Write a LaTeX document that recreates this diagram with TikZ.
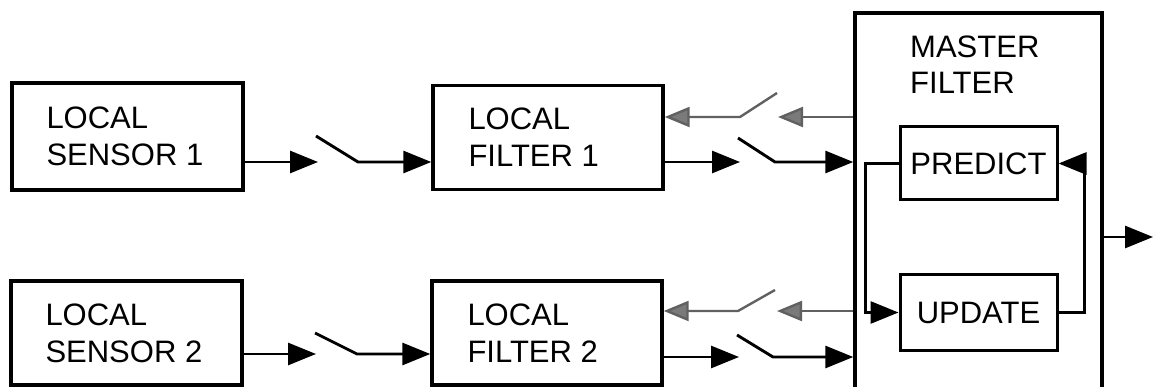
\documentclass[tikz,border=0pt]{standalone}
\usepackage{fontspec}
\setmainfont{Liberation Sans}
\usetikzlibrary{arrows.meta,calc}

\tikzset{
  box/.style={draw, line width=3.4pt, rectangle, minimum width=231pt,
    inner sep=0pt},
  txt/.style={align=left, inner sep=0pt, anchor=west,
    font=\fontsize{31}{37}\selectfont},
  subbox/.style={draw, line width=3pt, rectangle, align=center,
    minimum width=157pt, inner sep=0pt,
    font=\fontsize{31}{37}\selectfont},
  title/.style={align=left, inner sep=0pt, anchor=north west,
    font=\fontsize{31}{36}\selectfont},
  arr/.style={line width=2.9pt, -{Triangle[length=28pt,width=22pt]}},
  garr/.style={line width=2.4pt, draw=black!62,
    -{Triangle[length=25pt,width=20pt,fill=black!52]}},
}

\begin{document}
\begin{tikzpicture}[x=1pt,y=-1pt]
\useasboundingbox (0,0) rectangle (1154,387);
\clip (0,0) rectangle (1154,387);

% local sensors and local filters
\node[box, minimum height=107pt] (s1) at (127.5,136.5) {};
\node[box, minimum height=104pt, minimum width=230pt] (f1) at (548,137.5) {};
\node[box, minimum height=104pt] (s2) at (126.5,333) {};
\node[box, minimum height=104pt, minimum width=230pt] (f2) at (547,333) {};
\node[txt] (s1t) at ([xshift=36pt]s1.west) {LOCAL\\SENSOR 1};
\node[txt] (f1t) at ([xshift=37pt]f1.west) {LOCAL\\FILTER 1};
\node[txt] (s2t) at ([xshift=36pt]s2.west) {LOCAL\\SENSOR 2};
\node[txt] (f2t) at ([xshift=37pt]f2.west) {LOCAL\\FILTER 2};

% master filter (runs past the lower edge)
\node[draw, line width=3.4pt, rectangle, minimum width=247pt,
      minimum height=420pt, inner sep=0pt] (mf) at (978.5,223) {};
\node[title] (mft) at (910,35.5) {MASTER\\FILTER};
\node[subbox, minimum height=73pt] (pr) at (978.5,163.5) {PREDICT};
\node[subbox, minimum height=75pt] (up) at (978.5,312.5) {UPDATE};

% switch points
\coordinate (a1) at (318,162); \coordinate (a2) at (316,136); \coordinate (a3) at (358,162);
\coordinate (b1) at (740,162); \coordinate (b2) at (738,138); \coordinate (b3) at (775,162);
\coordinate (c1) at (778,117); \coordinate (c2) at (740,117); \coordinate (c3) at (777,93);
\coordinate (d1) at (316,354); \coordinate (d2) at (315,333); \coordinate (d3) at (357,354);
\coordinate (e1) at (739,357); \coordinate (e2) at (737,335); \coordinate (e3) at (773,357);
\coordinate (g1) at (777,311); \coordinate (g2) at (738,311); \coordinate (g3) at (775,290);
\coordinate (out) at (1153,237);

% sensor 1 -> filter 1
\draw[arr] (s1.east |- a1) -- (a1);
\draw[arr] (a2) -- (a3) -- (f1.west |- a3);
% filter 1 -> master
\draw[arr] (f1.east |- b1) -- (b1);
\draw[arr] (b2) -- (b3) -- (mf.west |- b3);
% master -> filter 1 (feedback)
\draw[garr] (mf.west |- c1) -- (c1);
\draw[garr] (c3) -- (c2) -- (f1.east |- c2);

% sensor 2 -> filter 2
\draw[arr] (s2.east |- d1) -- (d1);
\draw[arr] (d2) -- (d3) -- (f2.west |- d3);
% filter 2 -> master
\draw[arr] (f2.east |- e1) -- (e1);
\draw[arr] (e2) -- (e3) -- (mf.west |- e3);
% master -> filter 2 (feedback)
\draw[garr] (mf.west |- g1) -- (g1);
\draw[garr] (g3) -- (g2) -- (f2.east |- g2);

% predict / update loop
\draw[arr] (pr.west) -- ([xshift=-33pt]pr.west) |- (up.west);
\draw[arr] (up.east) -- ([xshift=26pt]up.east) |- (pr.east);

% output
\draw[arr] (mf.east |- out) -- (out);
\end{tikzpicture}
\end{document}
